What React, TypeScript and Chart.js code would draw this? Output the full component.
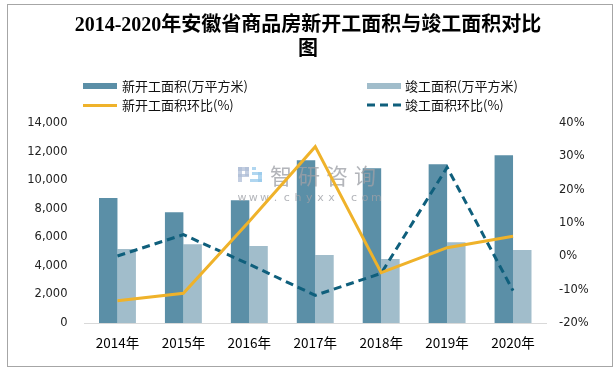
import React, { useEffect, useRef } from 'react';
import { Chart, registerables } from 'chart.js';

Chart.register(...registerables);

const categories = ['2014年', '2015年', '2016年', '2017年', '2018年', '2019年', '2020年'];
const newStartArea = [8750, 7760, 8600, 11400, 10840, 11120, 11750];
const completedArea = [5180, 5520, 5390, 4760, 4480, 5660, 5110];
const newStartRate = [-13.3, -11.1, 10.5, 32.9, -4.9, 2.6, 6.0];
const completedRate = [0.1, 6.5, -2.4, -11.7, -5.1, 26.7, -10.3];

const titleLines = ['2014-2020年安徽省商品房新开工面积与竣工面积对比', '图'];
const legendLabels = ['新开工面积(万平方米)', '竣工面积(万平方米)', '新开工面积环比(%)', '竣工面积环比(%)'];
const watermarkName = '智研咨询';
const watermarkSite = 'www.chyxx.com';

const DARK = '#5b8fa7';
const LIGHT = '#a1bdcb';
const GOLD = '#efb22a';
const TEAL = '#0f5f7c';

let watermarkDrawn = false;

function drawWatermark(ctx: CanvasRenderingContext2D) {
  ctx.save();
  ctx.fillStyle = 'rgba(175,190,215,0.75)';
  ctx.fillRect(238, 167, 4, 15);
  ctx.fillRect(238, 167, 11, 4);
  ctx.fillRect(245, 167, 4, 9);
  ctx.fillRect(238, 174, 11, 3);
  ctx.fillStyle = 'rgba(150,200,235,0.75)';
  ctx.fillRect(252, 167, 4, 3);
  ctx.fillRect(252, 172, 10, 3);
  ctx.fillRect(258, 172, 4, 10);
  ctx.fillRect(250, 179, 12, 3);
  ctx.fillStyle = 'rgba(158,160,166,0.78)';
  ctx.font = "22px 'Noto Sans CJK SC', sans-serif";
  ctx.textBaseline = 'middle';
  ctx.textAlign = 'left';
  for (let i = 0; i < watermarkName.length; i++) {
    ctx.fillText(watermarkName[i], 270 + i * 28, 176);
  }
  ctx.font = "11px 'DejaVu Sans', sans-serif";
  ctx.textAlign = 'center';
  for (let i = 0; i < watermarkSite.length; i++) {
    ctx.fillText(watermarkSite[i], 242 + i * 11.2, 198);
  }
  ctx.restore();
}

const watermarkPlugin = {
  id: 'watermark',
  beforeDatasetsDraw() {
    watermarkDrawn = false;
  },
  beforeDatasetDraw(chart: any, args: any) {
    if (watermarkDrawn) return;
    if (args.meta.type !== 'line') return;
    drawWatermark(chart.ctx);
    watermarkDrawn = true;
  },
  afterDatasetsDraw(chart: any) {
    if (!watermarkDrawn) {
      drawWatermark(chart.ctx);
      watermarkDrawn = true;
    }
  },
};

export default function App() {
  const ref = useRef<HTMLCanvasElement>(null);

  useEffect(() => {
    document.body.style.margin = '0';
    const chart = new Chart(ref.current!, {
      type: 'bar',
      plugins: [watermarkPlugin],
      data: {
        labels: categories,
        datasets: [
          {
            type: 'line',
            label: legendLabels[2],
            data: newStartRate,
            yAxisID: 'y1',
            borderColor: GOLD,
            borderWidth: 3,
            pointRadius: 0,
            tension: 0,
            order: 0,
          },
          {
            type: 'line',
            label: legendLabels[3],
            data: completedRate,
            yAxisID: 'y1',
            borderColor: TEAL,
            borderWidth: 3,
            borderDash: [8, 5],
            pointRadius: 0,
            tension: 0,
            order: 0,
          },
          {
            type: 'bar',
            label: legendLabels[0],
            data: newStartArea,
            yAxisID: 'y',
            backgroundColor: DARK,
            categoryPercentage: 0.56,
            barPercentage: 1,
            order: 1,
          },
          {
            type: 'bar',
            label: legendLabels[1],
            data: completedArea,
            yAxisID: 'y',
            backgroundColor: LIGHT,
            categoryPercentage: 0.56,
            barPercentage: 1,
            order: 1,
          },
        ] as any,
      },
      options: {
        responsive: false,
        animation: false,
        layout: { padding: { left: 0, right: 0, top: 0, bottom: 6 } },
        plugins: {
          legend: { display: false },
          tooltip: { enabled: false },
          title: {
            display: true,
            text: titleLines,
            color: '#000',
            font: { family: "'Liberation Serif', 'Noto Sans CJK SC', serif", size: 20, weight: 'bold', lineHeight: 1.2 },
            padding: { top: 14, bottom: 61 },
          },
        },
        scales: {
          x: {
            grid: { display: false, drawTicks: false },
            border: { display: true, color: '#d9d9d9', width: 1 },
            ticks: {
              color: '#000',
              padding: 12,
              font: { family: "'Noto Sans CJK SC', sans-serif", size: 13.5 },
            },
            afterFit: (s: any) => { s.height = 40; },
          },
          y: {
            position: 'left',
            min: 0,
            max: 14000,
            grid: { display: false, drawTicks: false },
            border: { display: false },
            ticks: {
              stepSize: 2000,
              color: '#222',
              padding: 17,
              font: { family: "'DejaVu Sans', sans-serif", size: 11.5 },
              callback: (v: any) => Number(v).toLocaleString('en-US'),
            },
            afterFit: (s: any) => { s.width = 84.5; },
          },
          y1: {
            position: 'right',
            min: -20,
            max: 40,
            grid: { display: false, drawTicks: false },
            border: { display: false },
            ticks: {
              stepSize: 10,
              color: '#222',
              padding: 13,
              font: { family: "'DejaVu Sans', sans-serif", size: 11.5 },
              callback: (v: any) => `${v}%`,
            },
            afterFit: (s: any) => { s.width = 70; },
          },
        },
      } as any,
    });
    return () => chart.destroy();
  }, []);

  const textStyle: React.CSSProperties = {
    position: 'absolute',
    fontFamily: "'Noto Sans CJK SC', sans-serif",
    fontSize: 13,
    lineHeight: '16px',
    color: '#111',
    transform: 'translateY(-50%)',
    whiteSpace: 'nowrap',
  };

  return (
    <div style={{ position: 'relative', width: 616, height: 369, background: '#fff', overflow: 'hidden' }}>
      <canvas
        ref={ref}
        width={616}
        height={369}
        style={{ position: 'absolute', left: 0, top: 0, width: 616, height: 369 }}
      />
      {/* legend */}
      <div style={{ position: 'absolute', left: 83, top: 83, width: 34, height: 6, background: DARK }} />
      <div style={{ ...textStyle, left: 122, top: 86 }}>{legendLabels[0]}</div>
      <div style={{ position: 'absolute', left: 367, top: 83, width: 34, height: 6, background: LIGHT }} />
      <div style={{ ...textStyle, left: 405, top: 86 }}>{legendLabels[1]}</div>
      <div style={{ position: 'absolute', left: 83, top: 103.5, width: 34, height: 3, background: GOLD }} />
      <div style={{ ...textStyle, left: 122, top: 105 }}>{legendLabels[2]}</div>
      <svg style={{ position: 'absolute', left: 367, top: 101 }} width={34} height={8}>
        <line x1={0} y1={4} x2={34} y2={4} stroke={TEAL} strokeWidth={3} strokeDasharray="8,5" />
      </svg>
      <div style={{ ...textStyle, left: 405, top: 105 }}>{legendLabels[3]}</div>
      {/* frame */}
      <div
        style={{
          position: 'absolute',
          left: 7,
          top: 4,
          width: 604,
          height: 361,
          border: '1px solid #a6a6a6',
          pointerEvents: 'none',
        }}
      />
    </div>
  );
}
